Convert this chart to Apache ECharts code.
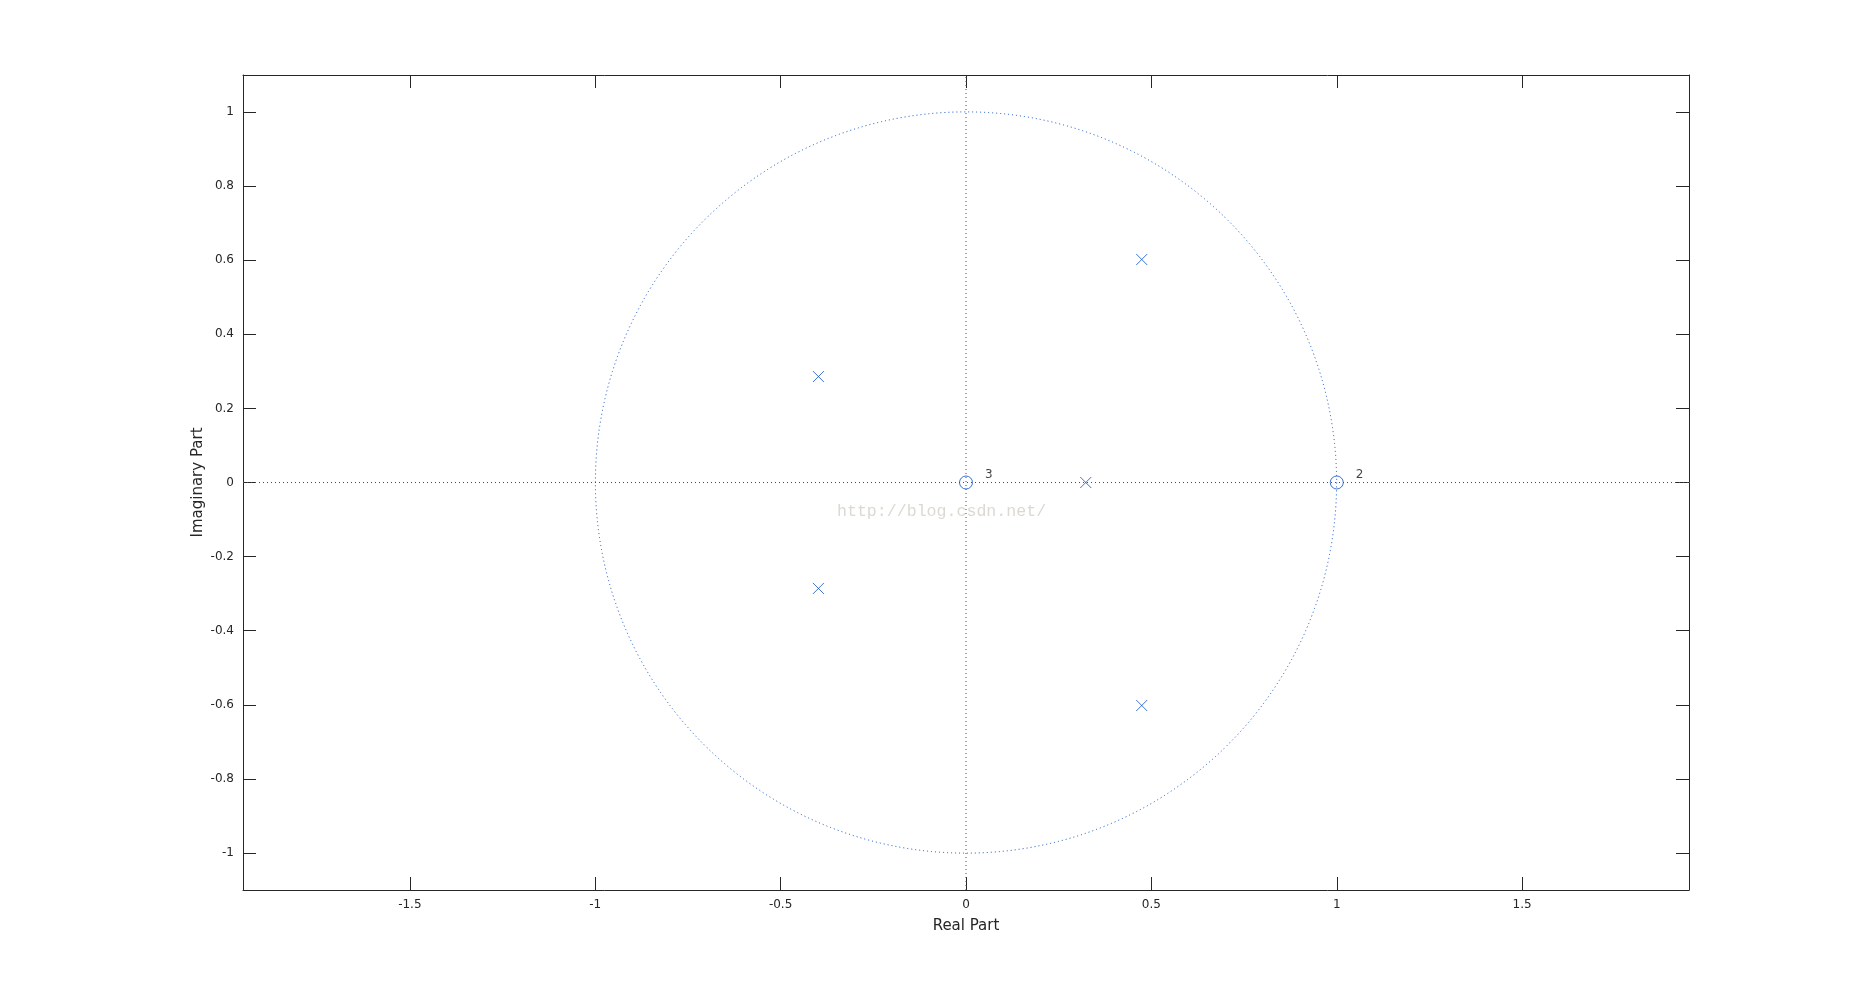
<!DOCTYPE html>
<html>
<head>
<meta charset="utf-8">
<script src="https://cdn.jsdelivr.net/npm/echarts@6/dist/echarts.min.js"></script>
<style>
html,body{margin:0;padding:0;background:#fff;}
#chart{width:1867px;height:1001px;}
</style>
</head>
<body>
<div id="chart"></div>
<script>
// ---- data ----
const xTicks = [-1.5, -1, -0.5, 0, 0.5, 1, 1.5];
const yTicks = [-1, -0.8, -0.6, -0.4, -0.2, 0, 0.2, 0.4, 0.6, 0.8, 1];
const xRange = [-1.95, 1.95];
const yRange = [-1.1, 1.1];
const poleRe = [0.474, 0.474, -0.398, -0.398, 0.323];
const poleIm = [0.602, -0.602, 0.286, -0.286, 0];
const zeroRe = [0, 1];
const zeroIm = [0, 0];
const zeroMult = [3, 2];
const unitRadius = 1;

const BLUE = '#0c52c8';
const INK = '#262626';
const FONT = 'DejaVu Sans';

const poles = poleRe.map((r, i) => [r, poleIm[i]]);
const zeros = zeroRe.map((r, i) => [r, zeroIm[i], zeroMult[i]]);

const chart = echarts.init(document.getElementById('chart'), null, {renderer: 'canvas'});

function axisBase(pos, range, ticks, showLabel) {
  return {
    type: 'value', position: pos, min: range[0], max: range[1],
    axisLine: {show: true, onZero: false, lineStyle: {color: INK, width: 1}},
    axisTick: {show: true, inside: true, length: 13, customValues: ticks, lineStyle: {color: INK, width: 1}},
    axisLabel: {show: showLabel, customValues: ticks, color: INK, fontSize: 12, fontFamily: FONT, margin: 9},
    splitLine: {show: false}
  };
}

const option = {
  backgroundColor: '#fff',
  animation: false,
  grid: {left: 243, right: 178, top: 75, bottom: 111, containLabel: false},
  xAxis: [
    Object.assign(axisBase('bottom', xRange, xTicks, true), {
      name: 'Real Part', nameLocation: 'middle', nameGap: 29, nameMoveOverlap: false,
      nameTextStyle: {color: INK, fontSize: 15, fontFamily: FONT}
    }),
    axisBase('top', xRange, xTicks, false)
  ],
  yAxis: [
    Object.assign(axisBase('left', yRange, yTicks, true), {
      name: 'Imaginary Part', nameLocation: 'middle', nameGap: 37, nameMoveOverlap: false,
      nameTextStyle: {color: INK, fontSize: 15, fontFamily: FONT}
    }),
    axisBase('right', yRange, yTicks, false)
  ],
  graphic: [{
    type: 'text', left: 837, top: 503, silent: true,
    style: {text: 'http://blog.csdn.net/', fill: '#dcd9d2', font: '16.6px "Liberation Mono", monospace'}
  }],
  series: [
    {
      type: 'custom', xAxisIndex: 0, yAxisIndex: 0, silent: true, z: 1,
      data: [[0, 0, unitRadius]],
      renderItem: function (params, api) {
        const c = api.coord([api.value(0), api.value(1)]);
        const s = api.size([api.value(2), api.value(2)]);
        return {
          type: 'circle',
          shape: {cx: c[0], cy: c[1], r: (s[0] + s[1]) / 2},
          style: {fill: 'none', stroke: BLUE, lineWidth: 1, lineDash: [1, 3]}
        };
      }
    },
    {
      type: 'line', silent: true, symbol: 'none', z: 1,
      data: [[xRange[0], 0], [xRange[1], 0]],
      lineStyle: {color: BLUE, width: 1, type: [1, 3]}
    },
    {
      type: 'line', silent: true, symbol: 'none', z: 1,
      data: [[0, yRange[0]], [0, yRange[1]]],
      lineStyle: {color: BLUE, width: 1, type: [1, 3]}
    },
    {
      type: 'scatter', silent: true, z: 3,
      data: poles,
      symbol: 'path://M0,0L10,10M10,0L0,10',
      symbolSize: 11,
      itemStyle: {color: 'none', borderColor: BLUE, borderWidth: 1}
    },
    {
      type: 'scatter', silent: true, z: 3,
      data: zeros,
      symbol: 'circle',
      symbolSize: 13,
      itemStyle: {color: 'none', borderColor: BLUE, borderWidth: 1},
      label: {
        show: true, position: 'right', distance: 10, offset: [0, -8],
        formatter: p => String(p.value[2]),
        color: '#111', fontSize: 12, fontFamily: FONT
      }
    }
  ]
};
chart.setOption(option);
</script>
</body>
</html>
